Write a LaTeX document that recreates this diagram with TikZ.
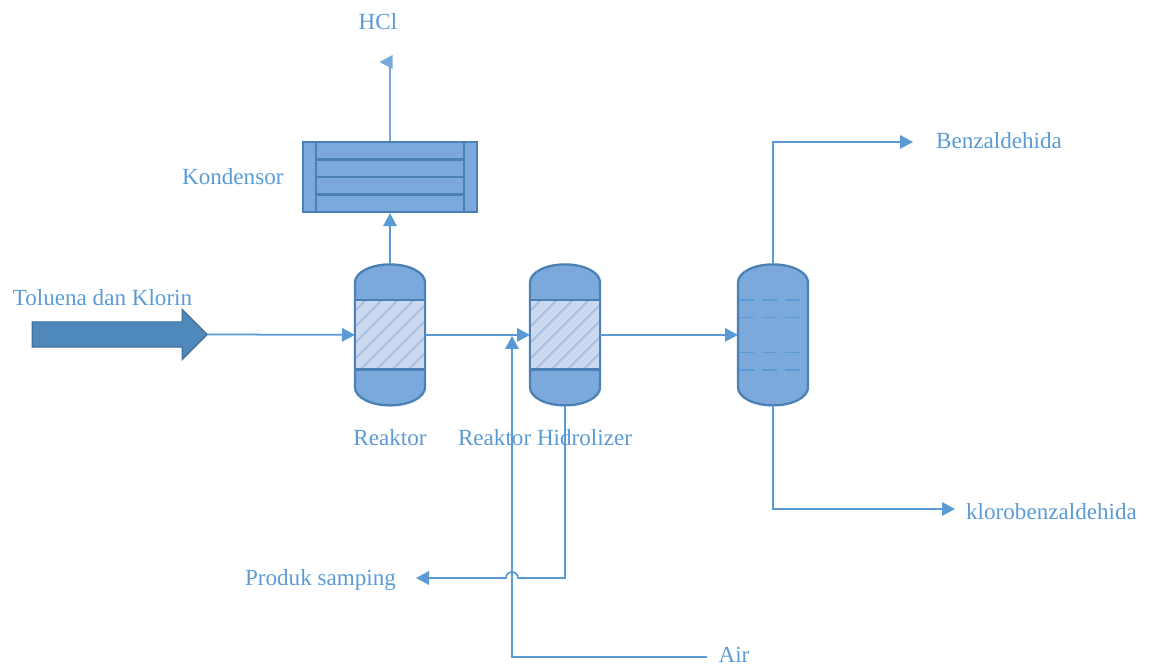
\documentclass[tikz,border=0pt]{standalone}
\usepackage{fontspec}
\setmainfont{Liberation Serif}
\usepackage{xcolor}
\usetikzlibrary{shapes,arrows.meta,positioning,calc}
\definecolor{flowblue}{HTML}{5B9BD5}
\definecolor{shellfill}{HTML}{7BA9DB}
\definecolor{shelldraw}{HTML}{4A80B5}
\definecolor{bedfill}{HTML}{CBD8EE}
\definecolor{bedhatch}{HTML}{A3BFE3}
\definecolor{feedfill}{HTML}{4F88BB}
\definecolor{feeddraw}{HTML}{41719C}
\newcommand{\vessel}[2]{%
  \draw[shell] ($(#2)+(-0.7,1.05)$) arc[start angle=180, end angle=0, x radius=0.7, y radius=0.36]
    -- ++(0,-2.1) arc[start angle=0, end angle=-180, x radius=0.7, y radius=0.36] -- cycle;
  \node[anchorbox] (#1) at (#2) {};
}

\begin{document}
\begin{tikzpicture}[
    anchorbox/.style={rectangle, minimum width=1.4cm, minimum height=2.82cm, inner sep=0pt, outer sep=0pt},
    shell/.style={draw=shelldraw, fill=shellfill, line width=1.3pt},
    bed/.style={rectangle, draw=shelldraw, line width=1.3pt, fill=bedfill, minimum width=1.4cm, minimum height=1.39cm, inner sep=0pt,
      path picture={
        \foreach \i in {-2.2,-1.88,...,1.0}
          \draw[bedhatch, line width=1pt, shift={(path picture bounding box.center)}] (\i,-0.7) -- ++(1.4,1.4);
      }},
    label/.style={text=flowblue, font=\fontsize{13.15pt}{15pt}\selectfont, inner sep=0pt},
    flow/.style={-{Triangle[length=0.26cm,width=0.27cm]}, flowblue, line width=1pt},
    tubeline/.style={draw=shelldraw, line width=1.4pt}
]
\useasboundingbox (0,0) rectangle (23.04,13.32);

% Vessels
\vessel{reaktor}{7.8,6.622}
\vessel{hidrolizer}{11.3,6.622}
\vessel{kolom}{15.46,6.622}

% Catalyst beds
\node[bed] (bedreaktor) at (reaktor) {};
\node[bed] (bedhidrolizer) at (hidrolizer) {};

% Trays
\foreach \h in {0.7,0.35,-0.35,-0.7}
  \draw[flowblue, line width=1pt, dash pattern=on 0.3cm off 0.16cm] ($(kolom.west)+(0.02,\h)$) -- ($(kolom.east)+(-0.15,\h)$);

% Condenser
\node[rectangle, shell, minimum width=3.48cm, minimum height=1.4cm, inner sep=0pt] (kondensor) at (7.8,9.78) {};
\draw[tubeline] ($(kondensor.north west)+(0.28,0)$) -- ($(kondensor.south west)+(0.28,0)$);
\draw[tubeline] ($(kondensor.north east)+(-0.28,0)$) -- ($(kondensor.south east)+(-0.28,0)$);
\foreach \h in {0.35,0,-0.35}
  \draw[tubeline] ($(kondensor.west)+(0.28,\h)$) -- ($(kondensor.east)+(-0.28,\h)$);

% Feed arrow
\node[single arrow, draw=feeddraw, fill=feedfill, line width=0.7pt, minimum width=0.98cm, minimum height=3.5cm, inner xsep=0pt, inner ysep=0.24cm, single arrow head extend=0.25cm, single arrow head indent=0cm, single arrow tip angle=90] (feed) at (2.27,6.63) {};

% Labels
\node[label] (hcllabel) at (7.56,12.88) {HCl};
\node[label, left=0.36cm of kondensor] (kondensorlabel) {Kondensor};
\node[label] (feedlabel) at (2.05,7.36) {Toluena dan Klorin};
\node[label] (reaktorlabel) at (7.8,4.56) {Reaktor};
\node[label] (hidrolizerlabel) at (10.9,4.56) {Reaktor Hidrolizer};
\node[label] (benzlabel) at (19.98,10.5) {Benzaldehida};
\node[label] (klorolabel) at (21.03,3.08) {klorobenzaldehida};
\node[label] (sampinglabel) at (6.41,1.73) {Produk samping};
\node[label] (airlabel) at (14.68,0.22) {Air};

% End points
\coordinate (hcltip) at (7.59,12.08);
\coordinate (benztip) at (18.26,10.48);
\coordinate (klorotip) at (19.1,3.14);
\coordinate (sampingtip) at (8.32,1.76);
\coordinate (airstart) at (14.14,0.18);
\coordinate (airtip) at (10.24,6.6);
\coordinate (hopright) at (10.36,1.76);

% Arrows
\draw[flow, shellfill] (kondensor.north) |- (hcltip);
\draw[flow] (reaktor.north) -- (kondensor.south);
\draw[flow] (feed.east) -- (reaktor.west);
\draw[flow] (reaktor.east) -- (hidrolizer.west);
\draw[flow] (hidrolizer.east) -- (kolom.west);
\draw[flow] (kolom.north) |- (benztip);
\draw[flow] (kolom.south) |- (klorotip);
\draw[flow] (airstart) -| (airtip);
\draw[flow] (hidrolizer.south) |- (hopright) arc[start angle=0, end angle=180, radius=0.12] -- (sampingtip);

\end{tikzpicture}
\end{document}
